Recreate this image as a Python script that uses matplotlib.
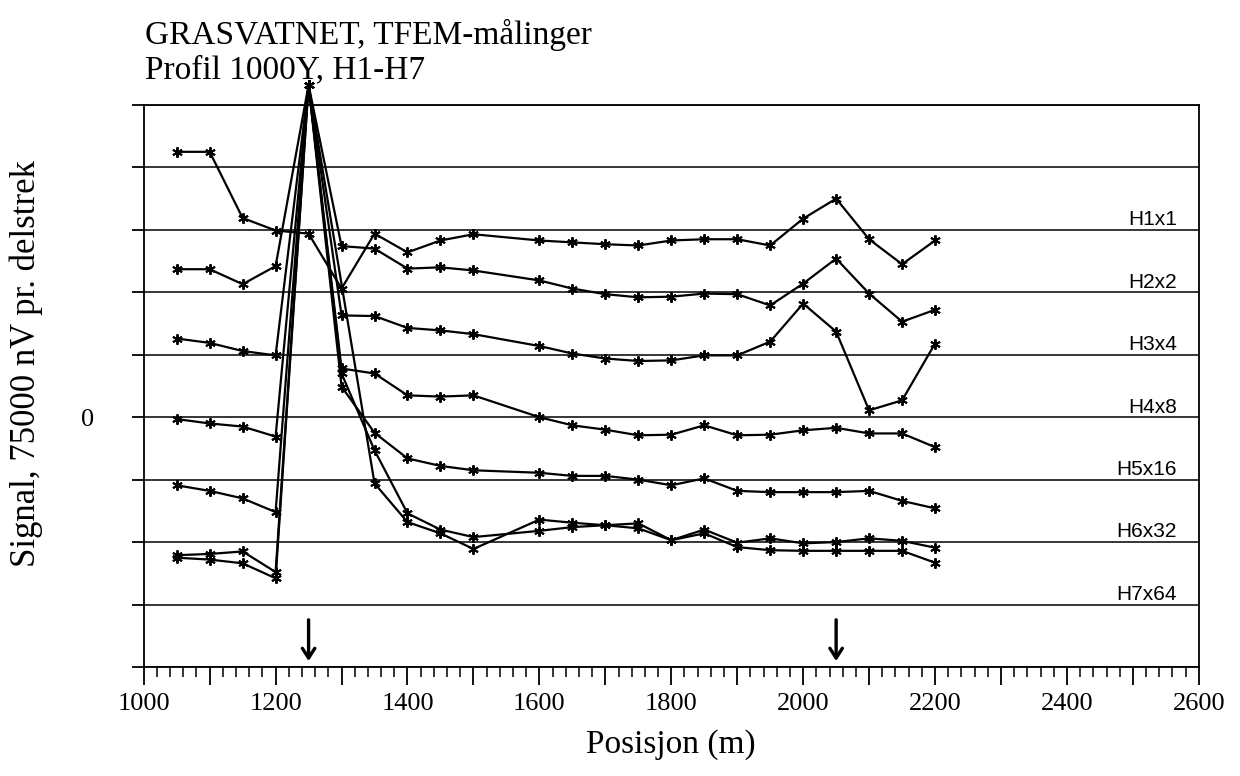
import matplotlib.pyplot as plt
from matplotlib.ticker import FuncFormatter, MultipleLocator

# Profile positions (m); no readings at 1550
positions = [1050, 1100, 1150, 1200, 1250, 1300, 1350, 1400, 1450, 1500,
             1600, 1650, 1700, 1750, 1800, 1850, 1900, 1950, 2000, 2050,
             2100, 2150, 2200]

# Signal in scale divisions (75000 nV per division), offset per channel
h1 = [4.25, 4.25, 3.19, 2.99, 2.94, 2.06, 2.94, 2.64, 2.83, 2.93,
      2.83, 2.80, 2.77, 2.75, 2.83, 2.85, 2.85, 2.75, 3.18, 3.50,
      2.85, 2.45, 2.83]
h2 = [2.37, 2.37, 2.13, 2.42, 5.32, 2.74, 2.70, 2.38, 2.40, 2.35,
      2.19, 2.06, 1.97, 1.92, 1.93, 1.98, 1.97, 1.79, 2.14, 2.54,
      1.98, 1.53, 1.72]
h3 = [1.26, 1.19, 1.06, 0.99, 5.32, 1.63, 1.62, 1.43, 1.39, 1.33,
      1.14, 1.02, 0.94, 0.90, 0.91, 0.99, 0.99, 1.21, 1.82, 1.37,
      0.11, 0.27, 1.18]
h4 = [-0.03, -0.10, -0.15, -0.31, 5.32, 0.78, 0.70, 0.35, 0.33, 0.35,
      0.00, -0.13, -0.20, -0.29, -0.28, -0.13, -0.29, -0.28, -0.21, -0.17,
      -0.26, -0.26, -0.48]
h5 = [-1.09, -1.18, -1.30, -1.52, 5.32, 0.49, -0.25, -0.66, -0.78, -0.85,
      -0.89, -0.94, -0.94, -1.00, -1.09, -0.98, -1.18, -1.20, -1.20, -1.20,
      -1.18, -1.34, -1.46]
h6 = [-2.21, -2.19, -2.15, -2.48, 5.32, 0.70, -0.53, -1.54, -1.80, -1.92,
      -1.82, -1.76, -1.73, -1.78, -1.97, -1.86, -2.08, -2.13, -2.14, -2.14,
      -2.14, -2.14, -2.33]
h7 = [-2.25, -2.28, -2.34, -2.58, 5.32, None, -1.06, -1.68, -1.86, -2.11,
      -1.64, -1.69, -1.73, -1.70, -1.97, -1.80, -2.01, -1.94, -2.02, -2.00,
      -1.94, -1.98, -2.09]

channel_labels = ["H1x1", "H2x2", "H3x4", "H4x8", "H5x16", "H6x32", "H7x64"]
channel_baselines = [3, 2, 1, 0, -1, -2, -3]
arrow_positions = [1250, 2050]

SERIF = ["Liberation Serif", "DejaVu Serif"]
SANS = ["Liberation Sans", "DejaVu Sans"]


def plot_profile():
    fig = plt.figure(figsize=(12.4, 7.76), dpi=100)
    ax = fig.add_axes([0.1159, 0.1405, 0.8509, 0.7242])

    ax.set_xlim(1000, 2600)
    ax.set_ylim(-4, 5)

    # horizontal division lines
    for yv in range(-4, 6):
        ax.axhline(yv, color="black", lw=1.1, zorder=1)

    for series in [h1, h2, h3, h4, h5, h6, h7]:
        # blank cells are skipped and the line is connected across them
        xs = [x for x, v in zip(positions, series) if v is not None]
        ys = [v for v in series if v is not None]
        ax.plot(xs, ys, color="black", lw=1.6, marker=(6, 2, 0),
                markersize=7.5, markeredgewidth=1.4, clip_on=False, zorder=3)

    for label, base in zip(channel_labels, channel_baselines):
        ax.text(2567, base + 0.01, label, ha="right", va="bottom",
                fontsize=15, family=SANS)

    for xa in arrow_positions:
        ax.annotate("", xy=(xa, -3.95), xytext=(xa, -3.2),
                    arrowprops=dict(arrowstyle="->,head_length=0.7,head_width=0.45",
                                    color="black", lw=2.4))

    # axes / ticks
    for side in ["left", "right", "bottom", "top"]:
        ax.spines[side].set_linewidth(1.3)
    ax.xaxis.set_major_locator(MultipleLocator(100))
    ax.xaxis.set_minor_locator(MultipleLocator(20))
    ax.xaxis.set_major_formatter(
        FuncFormatter(lambda v, p: f"{int(v)}" if int(v) % 200 == 0 else ""))
    ax.tick_params(axis="x", which="major", direction="out", length=13,
                   width=1.3, pad=6, labelsize=19)
    ax.tick_params(axis="x", which="minor", direction="out", length=7, width=1.1)
    ax.yaxis.set_major_locator(MultipleLocator(1))
    ax.yaxis.set_major_formatter(
        FuncFormatter(lambda v, p: "0" if abs(v) < 1e-9 else ""))
    ax.tick_params(axis="y", which="major", direction="out", length=9,
                   width=1.3, pad=27, labelsize=19)
    for lbl in ax.get_xticklabels() + ax.get_yticklabels():
        lbl.set_family(SERIF)

    ax.set_xlabel("Posisjon (m)", fontsize=24, family=SERIF, labelpad=10)
    ax.set_ylabel("Signal, 75000 nV pr. delstrek", fontsize=25, family=SERIF)
    ax.yaxis.set_label_coords(-0.095, 0.54)

    fig.text(145 / 1240, 1 - 44 / 776, "GRASVATNET, TFEM-målinger",
             fontsize=24, family=SERIF, va="baseline", ha="left")
    fig.text(145 / 1240, 1 - 78 / 776, "Profil 1000Y, H1-H7",
             fontsize=24, family=SERIF, va="baseline", ha="left")

    fig.savefig("out.png", dpi=100)


if __name__ == "__main__":
    plot_profile()
